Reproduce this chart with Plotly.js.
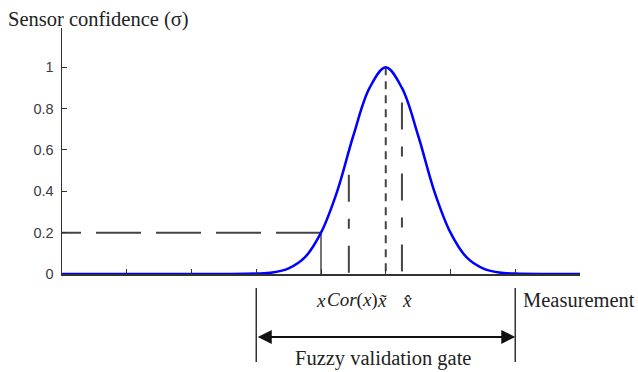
<!DOCTYPE html>
<html>
<head>
<meta charset="utf-8">
<script src="https://cdn.plot.ly/plotly-3.0.1.min.js"></script>
<style>
  html, body { margin: 0; padding: 0; background: #fff; }
  #plot { width: 638px; height: 372px; }
</style>
</head>
<body>
<div id="plot"></div>
<script>
// ─────────────────────────────────────────────────────
// Values
// ─────────────────────────────────────────────────────
const curveX = [0, 0.5, 1, 1.5, 2, 2.5, 3, 3.25, 3.5, 3.75, 4, 4.25, 4.5, 4.75, 5,
                5.25, 5.5, 5.75, 6, 6.25, 6.5, 6.75, 7, 7.5, 8];
const curveY = [0, 0, 0, 0, 0, 0, 0.002, 0.007, 0.027, 0.08, 0.2, 0.4, 0.67, 0.9, 1,
                0.9, 0.67, 0.4, 0.2, 0.08, 0.027, 0.007, 0.002, 0, 0];

// x of the marks under the curve and how high each one reaches
const markX   = [4, 4.43, 5, 5.25];
const markTop = [0.2, 0.48, 1, 0.83];
const markDash = ['solid', '27px,17px,10px,17px', '8px,6px', '27px,17px,10px,17px'];

// horizontal threshold line (drawn right to left)
const levelX = [4, 0];
const levelY = [0.2, 0.2];

// fuzzy validation gate bounds
const gateX = [3, 7];

const yTicks = [0, 0.2, 0.4, 0.6, 0.8, 1];
const xTicks = [0, 1, 2, 3, 4, 5, 6, 7, 8];

// labels under the axis: text and x position
const subLabels = ['<i>x</i>', '<i>Cor</i>(<i>x</i>)', '<i>x\u0303</i>', '<i>x\u0302</i>'];
const subLabelX = [4.0, 4.48, 4.94, 5.33];

// ─────────────────────────────────────────────────────
const ink = '#333';
const serif = 'Liberation Serif, Times New Roman, serif';

const traces = [];

traces.push({
    x: levelX, y: levelY, mode: 'lines', hoverinfo: 'skip',
    line: { color: '#444', width: 2, dash: '45px,15px' }
});

markX.forEach((mx, i) => {
    traces.push({
        x: [mx, mx], y: [markTop[i], 0], mode: 'lines', hoverinfo: 'skip',
        line: { color: '#444', width: i === 0 ? 1.5 : 2, dash: markDash[i] }
    });
});

traces.push({
    x: curveX, y: curveY, mode: 'lines',
    line: { color: '#0000ff', width: 2.5, shape: 'spline', smoothing: 1 }
});

// below-axis decorations (paper y)
const shapes = gateX.map(gx => ({
    type: 'line', xref: 'x', yref: 'paper',
    x0: gx, x1: gx, y0: -0.057, y1: -0.358,
    line: { color: ink, width: 1.5 }
}));

const annotations = subLabels.map((t, i) => ({
    text: t, xref: 'x', yref: 'paper', x: subLabelX[i], y: -0.106, yanchor: 'middle',
    showarrow: false, font: { family: serif, size: 19, color: '#222' }
}));

annotations.push({
    text: 'Measurement', xref: 'x', yref: 'paper', x: 7.09, y: -0.106,
    xanchor: 'left', yanchor: 'middle', showarrow: false,
    font: { family: serif, size: 20.5, color: '#222' }
});
annotations.push({
    text: 'Fuzzy validation gate', xref: 'x', yref: 'paper', x: 4.95, y: -0.345,
    yanchor: 'middle', showarrow: false,
    font: { family: serif, size: 20.5, color: '#222' }
});
annotations.push({
    text: 'Sensor confidence (σ)', xref: 'paper', yref: 'paper', x: -0.108, y: 1.035,
    xanchor: 'left', yanchor: 'middle', showarrow: false,
    font: { family: serif, size: 20.5, color: '#222' }
});
// double-headed arrow spanning the gate
annotations.push({
    text: '', xref: 'x', yref: 'paper', x: gateX[1], y: -0.256,
    axref: 'x', ax: gateX[0], ayref: 'pixel', ay: 0,
    showarrow: true, arrowside: 'end+start', arrowhead: 2, startarrowhead: 2,
    arrowsize: 1.4, startarrowsize: 1.4, arrowwidth: 2, arrowcolor: '#111',
    standoff: 0, startstandoff: 0
});

const layout = {
    width: 638, height: 372,
    margin: { l: 62, r: 58, t: 28, b: 98 },
    paper_bgcolor: '#fff', plot_bgcolor: '#fff',
    showlegend: false,
    font: { family: 'Liberation Sans, Arial, sans-serif', color: ink },
    xaxis: {
        range: [0, 8], tickvals: xTicks, showticklabels: false,
        ticks: 'inside', ticklen: 5, tickcolor: ink, tickwidth: 1,
        showline: true, linecolor: ink, linewidth: 1.5,
        showgrid: false, zeroline: false, fixedrange: true
    },
    yaxis: {
        range: [0, 1.19], tickvals: yTicks, ticktext: yTicks.map(String),
        ticks: 'inside', ticklen: 5, tickcolor: ink, tickwidth: 1,
        ticklabelstandoff: 4,
        tickfont: { size: 14.5, color: '#3a3a44' },
        showline: true, linecolor: ink, linewidth: 1.5,
        showgrid: false, zeroline: false, fixedrange: true
    },
    shapes: shapes,
    annotations: annotations
};

Plotly.newPlot('plot', traces, layout, { displayModeBar: false, staticPlot: true });
</script>
</body>
</html>
